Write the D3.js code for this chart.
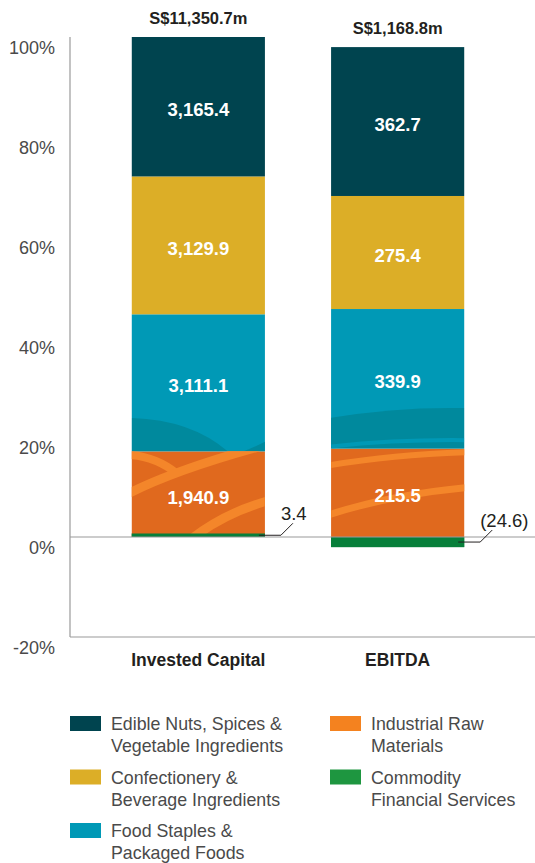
<!DOCTYPE html>
<html>
<head>
<meta charset="utf-8">
<script src="https://cdn.jsdelivr.net/npm/d3@7"></script>
<style>
  body { margin: 0; background: #fff; }
  svg { display: block; font-family: "Liberation Sans", Arial, Helvetica, sans-serif; }
  .tick-label { fill: #4a4a4a; font-size: 18px; }
  .cat-label { fill: #231f20; font-size: 17.5px; font-weight: bold; }
  .total-label { fill: #231f20; font-size: 16.5px; font-weight: bold; }
  .val-label { fill: #fff; font-size: 18.5px; font-weight: bold; }
  .small-label { fill: #231f20; font-size: 18.5px; }
  .legend-text { fill: #4a4a4a; font-size: 17.8px; }
</style>
</head>
<body>
<svg id="chart" width="535" height="863"></svg>
<script>
// chart data
var categories = ["Invested Capital", "EBITDA"];
var totals = ["S$11,350.7m", "S$1,168.8m"];
var segmentKeys = ["commodity", "industrial", "foodStaples", "confectionery", "edibleNuts"];
var segmentNames = {
    edibleNuts: ["Edible Nuts, Spices &", "Vegetable Ingredients"],
    confectionery: ["Confectionery &", "Beverage Ingredients"],
    foodStaples: ["Food Staples &", "Packaged Foods"],
    industrial: ["Industrial Raw", "Materials"],
    commodity: ["Commodity", "Financial Services"]
};
var edibleNuts = [3165.4, 362.7];
var confectionery = [3129.9, 275.4];
var foodStaples = [3111.1, 339.9];
var industrial = [1940.9, 215.5];
var commodity = [3.4, -24.6];
var yTicks = [-20, 0, 20, 40, 60, 80, 100];

var barColors = {
    edibleNuts: "#00444f",
    confectionery: "#dcae27",
    foodStaples: "#0099b6",
    industrial: "#e0691e",
    commodity: "#077f3a"
};
var legendColors = {
    edibleNuts: "#00444f",
    confectionery: "#dcae27",
    foodStaples: "#0099b6",
    industrial: "#f4821f",
    commodity: "#1e9640"
};

var svg = d3.select("#chart");

var y = d3.scaleLinear().domain([-20, 100]).range([637, 37]);
var x = d3.scaleBand().domain(categories).range([70, 526])
    .paddingInner(0.332).paddingOuter(0.31);

// build rows, values as % of the sum of absolute values
var raw = { edibleNuts: edibleNuts, confectionery: confectionery, foodStaples: foodStaples,
            industrial: industrial, commodity: commodity };
var rows = categories.map(function(c, i) {
    var row = { cat: c };
    var abs = d3.sum(segmentKeys, function(k) { return Math.abs(raw[k][i]); });
    segmentKeys.forEach(function(k) { row[k] = raw[k][i] / abs * 100; row[k + "_v"] = raw[k][i]; });
    return row;
});

var stack = d3.stack().keys(segmentKeys).offset(d3.stackOffsetDiverging);
var series = stack(rows);

// axis lines
svg.append("line").attr("x1", 70).attr("x2", 70).attr("y1", y(100)).attr("y2", y(-20))
    .attr("stroke", "#9a9a9a").attr("stroke-width", 1.2);
svg.append("line").attr("x1", 70).attr("x2", 535).attr("y1", y(-20)).attr("y2", y(-20))
    .attr("stroke", "#9a9a9a").attr("stroke-width", 1.2);

// tick labels (sit just below their gridline position)
svg.selectAll(".tick-label").data(yTicks).enter().append("text")
    .attr("class", "tick-label")
    .attr("x", 55)
    .attr("y", function(d) { return y(d) + 11; })
    .attr("dy", "0.35em")
    .attr("text-anchor", "end")
    .text(function(d) { return d + "%"; });

var defs = svg.append("defs");

var segs = [];
series.forEach(function(s) {
    s.forEach(function(d, i) {
        segs.push({ key: s.key, cat: categories[i], i: i, y0: d[0], y1: d[1], v: d.data[s.key + "_v"] });
    });
});

var bars = svg.append("g");
segs.forEach(function(d) {
    var top = y(Math.max(d.y0, d.y1)), bot = y(Math.min(d.y0, d.y1));
    var h = bot - top;
    if (d.key === "commodity" && h < 3.5) { top = bot - 3.5; h = 3.5; }
    d.top = top; d.bot = bot; d.h = h;
    bars.append("rect")
        .attr("x", x(d.cat)).attr("width", x.bandwidth())
        .attr("y", top).attr("height", h)
        .attr("fill", barColors[d.key]);
});

// decorative swooshes, in fractions of the segment box
var swooshes = [
    { cat: "Invested Capital", key: "foodStaples", type: "fill", color: "#00899d",
      pts: [[0, 0.756], [0.45, 0.77], [0.72, 1]] },
    { cat: "Invested Capital", key: "foodStaples", type: "fill", color: "#00899d",
      pts: [[0.84, 1], [0.92, 0.97], [1, 0.93]] },
    { cat: "Invested Capital", key: "industrial", type: "stroke", color: "#f4862a", w: 8,
      pts: [[-0.02, 0.04], [0.18, 0.06], [0.34, 0.26]] },
    { cat: "Invested Capital", key: "industrial", type: "stroke", color: "#f4862a", w: 9,
      pts: [[-0.02, 0.49], [0.35, 0.2], [1.02, -0.08]] },
    { cat: "Invested Capital", key: "industrial", type: "stroke", color: "#f4862a", w: 9,
      pts: [[0.45, 1.02], [0.7, 0.72], [1.02, 0.58]] },
    { cat: "EBITDA", key: "foodStaples", type: "fillband", color: "#00899d",
      pts: [[0, 0.78], [0.5, 0.70], [1, 0.71]] },
    { cat: "EBITDA", key: "industrial", type: "stroke", color: "#f4862a", w: 6,
      pts: [[-0.02, 0.19], [0.45, 0.07], [1.02, 0.04]] },
    { cat: "EBITDA", key: "industrial", type: "stroke", color: "#f4862a", w: 7,
      pts: [[-0.02, 0.75], [0.45, 0.52], [1.02, 0.44]] }
];

var deco = svg.append("g");
swooshes.forEach(function(s, n) {
    var seg = segs.filter(function(d) { return d.cat === s.cat && d.key === s.key; })[0];
    var x0 = x(s.cat), w = x.bandwidth();
    var px = function(p) { return [x0 + p[0] * w, seg.top + p[1] * seg.h]; };
    var id = "clip" + n;
    defs.append("clipPath").attr("id", id).append("rect")
        .attr("x", x0).attr("y", seg.top).attr("width", w).attr("height", seg.h);
    var a = px(s.pts[0]), c = px(s.pts[1]), b = px(s.pts[2]);
    var p = d3.path();
    p.moveTo(a[0], a[1]);
    p.quadraticCurveTo(c[0], c[1], b[0], b[1]);
    if (s.type === "stroke") {
        deco.append("path").attr("d", p.toString()).attr("clip-path", "url(#" + id + ")")
            .attr("fill", "none").attr("stroke", s.color).attr("stroke-width", s.w);
    } else {
        if (s.type === "fill") {
            p.lineTo(a[0] > b[0] ? a[0] : x0, seg.bot);
            p.lineTo(Math.min(a[0], b[0]), seg.bot);
        } else {
            p.lineTo(x0 + w, seg.bot);
            p.lineTo(x0, seg.bot);
        }
        p.closePath();
        if (s.type === "fill" && s.pts[0][0] > 0) {
            // right corner piece
            p = d3.path();
            p.moveTo(a[0], a[1]);
            p.quadraticCurveTo(c[0], c[1], b[0], b[1]);
            p.lineTo(x0 + w, seg.bot);
            p.closePath();
        }
        deco.append("path").attr("d", p.toString()).attr("clip-path", "url(#" + id + ")")
            .attr("fill", s.color);
        if (s.type === "fillband") {
            var q = d3.path();
            var l0 = px([0, 0.985]), l1 = px([0.5, 0.935]), l2 = px([1, 0.94]);
            q.moveTo(l0[0], l0[1]);
            q.quadraticCurveTo(l1[0], l1[1], l2[0], l2[1]);
            deco.append("path").attr("d", q.toString()).attr("clip-path", "url(#" + id + ")")
                .attr("fill", "none").attr("stroke", barColors.foodStaples).attr("stroke-width", 4);
        }
    }
});

// redraw thin commodity segments on top of the swooshes
segs.filter(function(d) { return d.key === "commodity"; }).forEach(function(d) {
    svg.append("rect")
        .attr("x", x(d.cat)).attr("width", x.bandwidth())
        .attr("y", d.top).attr("height", d.h)
        .attr("fill", barColors.commodity);
});

// zero line
svg.append("line").attr("x1", 70).attr("x2", 535).attr("y1", y(0)).attr("y2", y(0))
    .attr("stroke", "#9a9a9a").attr("stroke-width", 1.2);

// value labels inside the bars
segs.filter(function(d) { return d.key !== "commodity"; }).forEach(function(d) {
    svg.append("text")
        .attr("class", "val-label")
        .attr("x", x(d.cat) + x.bandwidth() / 2)
        .attr("y", (d.top + d.bot) / 2 + 3)
        .attr("dy", "0.35em")
        .attr("text-anchor", "middle")
        .text(d3.format(",.1f")(d.v));
});

// commodity labels with leader lines
segs.filter(function(d) { return d.key === "commodity"; }).forEach(function(d) {
    var xr = x(d.cat) + x.bandwidth();
    var ym = (d.top + d.bot) / 2;
    svg.append("polyline")
        .attr("points", [[xr - 6, ym], [xr + 16, ym], [xr + 28, ym - 12]].join(" "))
        .attr("fill", "none").attr("stroke", "#231f20").attr("stroke-width", 1);
    svg.append("text")
        .attr("class", "small-label")
        .attr("x", xr + 16)
        .attr("y", ym - 22)
        .attr("dy", "0.35em")
        .attr("text-anchor", "start")
        .text(d.v < 0 ? "(" + d3.format(",.1f")(-d.v) + ")" : d3.format(",.1f")(d.v));
});

// totals above bars
categories.forEach(function(c, i) {
    var top = d3.min(segs.filter(function(d) { return d.cat === c; }), function(d) { return d.top; });
    svg.append("text")
        .attr("class", "total-label")
        .attr("x", x(c) + x.bandwidth() / 2)
        .attr("y", top - 19)
        .attr("dy", "0.35em")
        .attr("text-anchor", "middle")
        .text(totals[i]);
});

// category labels
svg.selectAll(".cat-label").data(categories).enter().append("text")
    .attr("class", "cat-label")
    .attr("x", function(d) { return x(d) + x.bandwidth() / 2; })
    .attr("y", 660)
    .attr("dy", "0.35em")
    .attr("text-anchor", "middle")
    .text(function(d) { return d; });

// legend
var legendOrder = ["edibleNuts", "confectionery", "foodStaples", "industrial", "commodity"];
var legend = svg.append("g");
legendOrder.forEach(function(k, i) {
    var col = i < 3 ? 0 : 1;
    var row = i < 3 ? i : i - 3;
    var lx = col === 0 ? 70 : 330;
    var ly = 716 + row * 53.5;
    legend.append("rect").attr("x", lx).attr("y", ly).attr("width", 31).attr("height", 15)
        .attr("fill", legendColors[k]);
    segmentNames[k].forEach(function(line, j) {
        legend.append("text")
            .attr("class", "legend-text")
            .attr("x", lx + 41)
            .attr("y", ly + 8 + j * 22)
            .attr("dy", "0.35em")
            .text(line);
    });
});
</script>
</body>
</html>
